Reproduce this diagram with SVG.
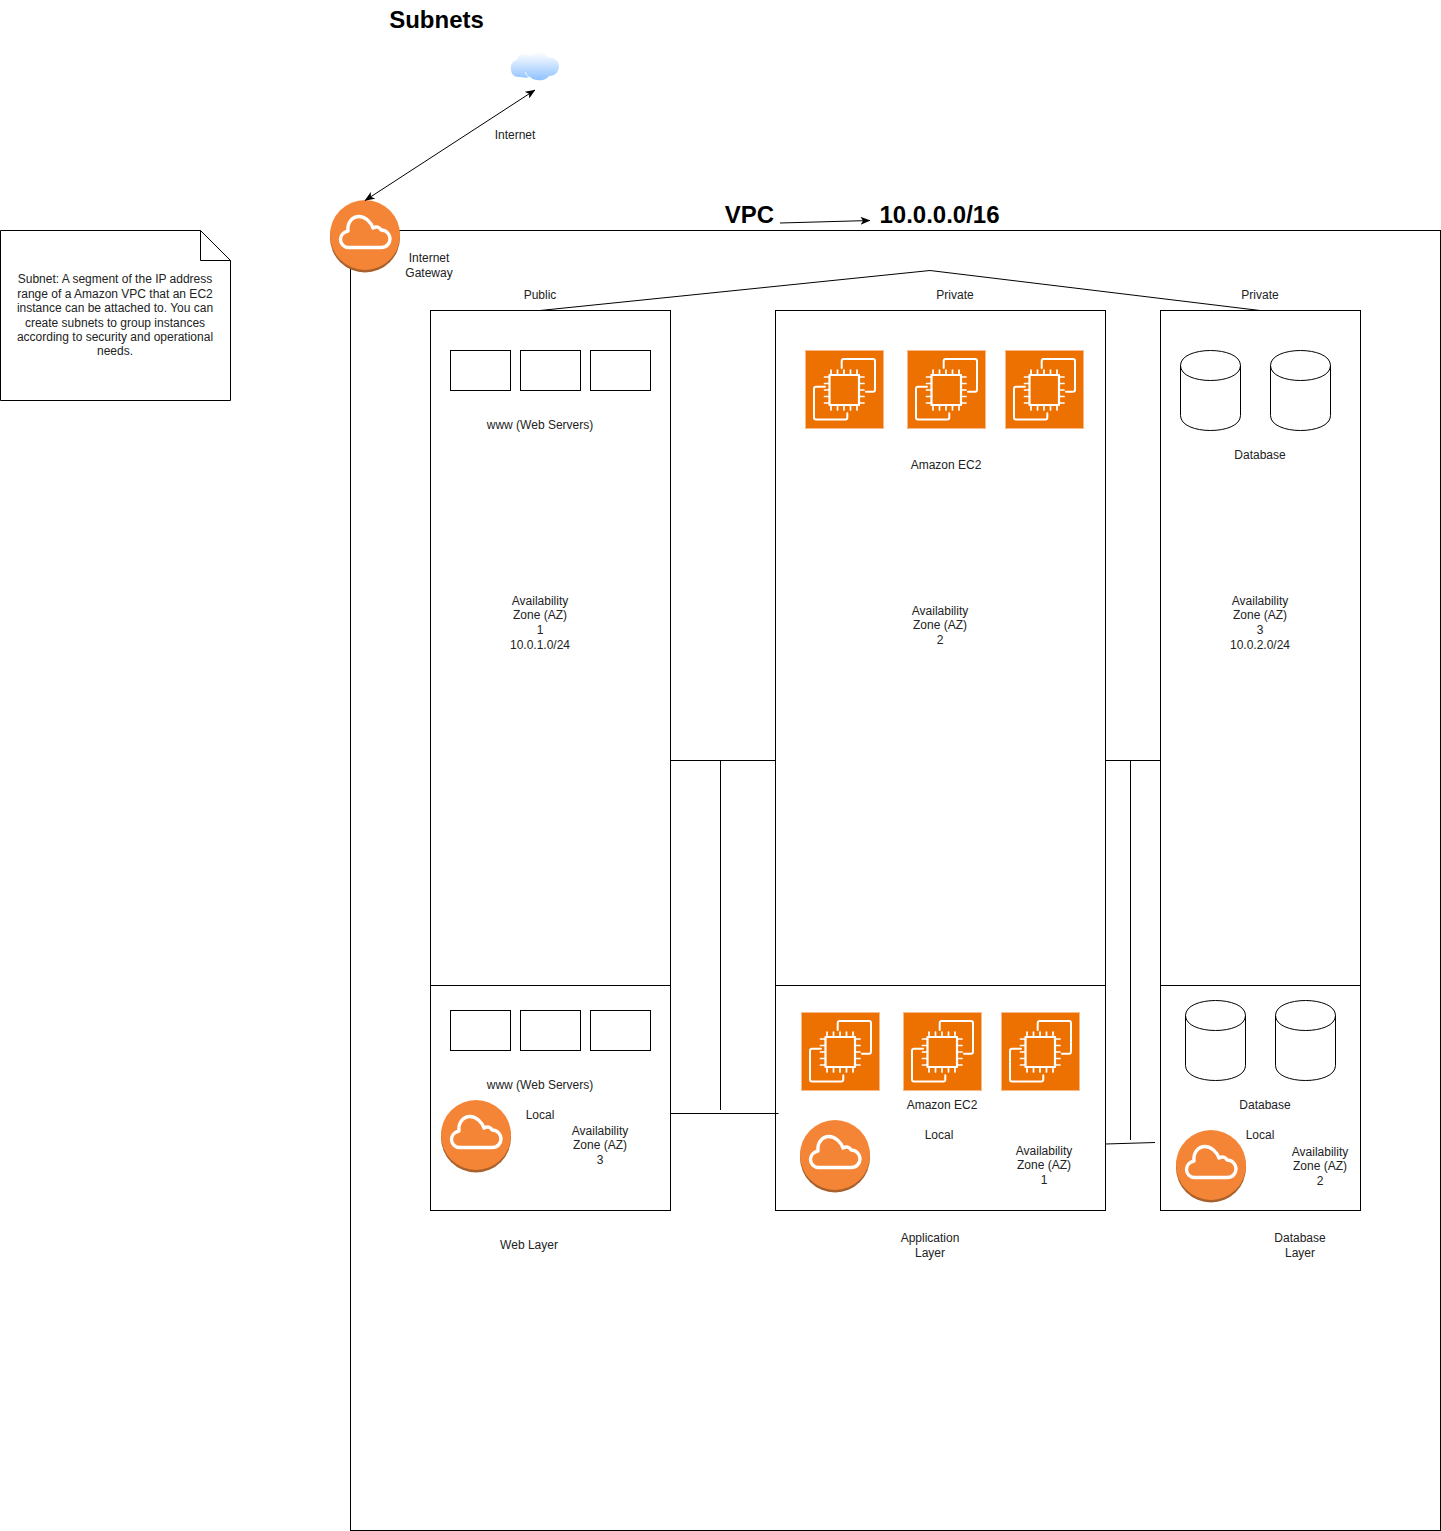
<svg xmlns="http://www.w3.org/2000/svg" xmlns:xlink="http://www.w3.org/1999/xlink" width="1441" height="1531" viewBox="0 0 1441 1531">
<style>
text{font-family:"Liberation Sans",Arial,sans-serif;font-size:12px;fill:#222;text-anchor:middle}
.title{font-size:24px;font-weight:bold;fill:#000}
.s{fill:#fff;stroke:#000;stroke-width:1}
.ln{fill:none;stroke:#000;stroke-width:1}
.wh{fill:none;stroke:#fff;stroke-linejoin:round;stroke-linecap:round}
</style>
<defs>
<linearGradient id="skyg" x1="0" y1="0" x2="0" y2="1"><stop offset="0" stop-color="#ffffff"/><stop offset="1" stop-color="#8fc2ff"/></linearGradient>
<marker id="ah" viewBox="0 0 10 8" refX="9.500" refY="4" markerWidth="10" markerHeight="8" orient="auto-start-reverse" markerUnits="userSpaceOnUse"><path d="M0 0L10 4L0 8L2.500 4Z" fill="#000"/></marker>
<g id="gw">
<ellipse cx="0" cy="1.500" rx="35" ry="35" fill="#a8602c"/>
<circle cx="0" cy="-1" r="35" fill="#f58536"/>
<path class="wh" stroke-width="3.400" d="M-16 11.500H16C22 11.500 25 7 25 3C25 -2 21 -6 16 -6C15 -9 11 -10 8 -8C6 -14 0 -19.500 -6 -19.500C-13 -19.500 -18 -13 -17 -5C-22 -4 -24.500 0 -24.500 3.500C-24.500 8 -21 11.500 -16 11.500Z"/>
</g>
<g id="ec2">
<rect x="0.500" y="0.500" width="78" height="78" fill="#ed7100" stroke="#f9b98a"/>
<g class="wh" stroke-width="2">
<rect x="24.500" y="25" width="29.500" height="30" fill="none" stroke-width="2.200"/>
<path d="M36.700 18V11Q36.700 9 38.700 9H68Q70 9 70 11V39.700Q70 41.700 68 41.700H61M20 36.700H11Q9 36.700 9 38.700V67.500Q9 69.500 11 69.500H40.300Q42.300 69.500 42.300 67.500V63.300"/>
<path stroke-width="1.700" d="M26 25V20M32.500 25V20M39 25V20M45.500 25V20M52 25V20M26 55V60M32.500 55V60M39 55V60M45.500 55V60M52 55V60M24.500 27H19.500M24.500 33.500H19.500M24.500 40H19.500M24.500 46.500H19.500M24.500 53H19.500M54 27H59M54 33.500H59M54 40H59M54 46.500H59M54 53H59"/>
</g>
</g>
<g id="cyl">
<path class="s" d="M0 15C0 -5 60 -5 60 15V65C60 85 0 85 0 65Z"/>
<path class="ln" d="M0 15C0 35 60 35 60 15"/>
</g>
</defs>

<g id="vpc"><rect class="s" x="350.500" y="230.500" width="1090" height="1300"/></g>

<g id="note">
<path class="s" d="M0.500 230.500H200.500L230.500 260.500V400.500H0.500Z"/>
<path class="ln" d="M200.500 230.500V260.500H230.500"/>
<text x="115" y="283">Subnet: A segment of the IP address</text>
<text x="115" y="298">range of a Amazon VPC that an EC2</text>
<text x="115" y="312">instance can be attached to. You can</text>
<text x="115" y="327">create subnets to group instances</text>
<text x="115" y="341">according to security and operational</text>
<text x="115" y="355">needs.</text>
</g>

<g id="titles">
<text class="title" x="436.500" y="28">Subnets</text>
<text class="title" x="749.500" y="223">VPC</text>
<text class="title" x="939.500" y="223">10.0.0.0/16</text>
</g>

<g id="public-az">
<rect class="s" x="430.500" y="310.500" width="240" height="675"/>
<rect class="s" x="450.500" y="350.500" width="60" height="40"/>
<rect class="s" x="520.500" y="350.500" width="60" height="40"/>
<rect class="s" x="590.500" y="350.500" width="60" height="40"/>
<text x="540" y="299">Public</text>
<text x="540" y="429">www (Web Servers)</text>
<text x="540" y="605">Availability</text>
<text x="540" y="619">Zone (AZ)</text>
<text x="540" y="634">1</text>
<text x="540" y="649">10.0.1.0/24</text>
</g>

<g id="app-az">
<rect class="s" x="775.500" y="310.500" width="330" height="675"/>
<use href="#ec2" x="805" y="350"/>
<use href="#ec2" x="907" y="350"/>
<use href="#ec2" x="1005" y="350"/>
<text x="955" y="299">Private</text>
<text x="946" y="469">Amazon EC2</text>
<text x="940" y="615">Availability</text>
<text x="940" y="629">Zone (AZ)</text>
<text x="940" y="644">2</text>
</g>

<g id="db-az">
<rect class="s" x="1160.500" y="310.500" width="200" height="675"/>
<use href="#cyl" x="1180.500" y="350.500"/>
<use href="#cyl" x="1270.500" y="350.500"/>
<text x="1260" y="299">Private</text>
<text x="1260" y="459">Database</text>
<text x="1260" y="605">Availability</text>
<text x="1260" y="619">Zone (AZ)</text>
<text x="1260" y="634">3</text>
<text x="1260" y="649">10.0.2.0/24</text>
</g>

<g id="web-local">
<rect class="s" x="430.500" y="985.500" width="240" height="225"/>
<rect class="s" x="450.500" y="1010.500" width="60" height="40"/>
<rect class="s" x="520.500" y="1010.500" width="60" height="40"/>
<rect class="s" x="590.500" y="1010.500" width="60" height="40"/>
<use href="#gw" x="476" y="1136"/>
<text x="540" y="1089">www (Web Servers)</text>
<text x="540" y="1119">Local</text>
<text x="600" y="1135">Availability</text>
<text x="600" y="1149">Zone (AZ)</text>
<text x="600" y="1164">3</text>
</g>

<g id="app-local">
<rect class="s" x="775.500" y="985.500" width="330" height="225"/>
<use href="#ec2" x="801" y="1012"/>
<use href="#ec2" x="903" y="1012"/>
<use href="#ec2" x="1001" y="1012"/>
<use href="#gw" x="835" y="1156"/>
<text x="942" y="1109">Amazon EC2</text>
<text x="939" y="1139">Local</text>
<text x="1044" y="1155">Availability</text>
<text x="1044" y="1169">Zone (AZ)</text>
<text x="1044" y="1184">1</text>
</g>

<g id="db-local">
<rect class="s" x="1160.500" y="985.500" width="200" height="225"/>
<use href="#cyl" x="1185.500" y="1000.500"/>
<use href="#cyl" x="1275.500" y="1000.500"/>
<use href="#gw" x="1211" y="1166"/>
<text x="1265" y="1109">Database</text>
<text x="1260" y="1139">Local</text>
<text x="1320" y="1156">Availability</text>
<text x="1320" y="1170">Zone (AZ)</text>
<text x="1320" y="1185">2</text>
</g>

<g id="internet">
<path fill="url(#skyg)" d="M520 77C513 78 510 72 511 66C512 62 515 60 517 60C518 54 526 52 531 56C535 50 545 51 548 58C553 56 559 61 559 66C559 72 555 76 549 76C546 81 535 82 530 77C527 78 524 78 520 77Z"/>
<path fill="none" stroke="#fff" stroke-width="0.800" d="M525.500 72C526 75 528 77 531 78"/>
<text x="515" y="139">Internet</text>
</g>

<g id="internet-gateway">
<use href="#gw" x="365" y="236"/>
<text x="429" y="262">Internet</text>
<text x="429" y="277">Gateway</text>
</g>

<g id="layer-labels">
<text x="529" y="1249">Web Layer</text>
<text x="930" y="1242">Application</text>
<text x="930" y="1257">Layer</text>
<text x="1300" y="1242">Database</text>
<text x="1300" y="1257">Layer</text>
</g>

<g id="connectors">
<path class="ln" marker-start="url(#ah)" marker-end="url(#ah)" d="M365 200.500L535 90"/>
<path class="ln" marker-end="url(#ah)" d="M780 223L870 220.500"/>
<path class="ln" d="M540 310.500L930 270.500L1260 310.500"/>
<path class="ln" d="M670.500 760.500H775.500M720.500 760.500V1110M670.500 1113.500H778.500"/>
<path class="ln" d="M1105.500 760.500H1160.500M1130.500 760.500V1140M1105.500 1144L1155 1142.500"/>
</g>
</svg>
